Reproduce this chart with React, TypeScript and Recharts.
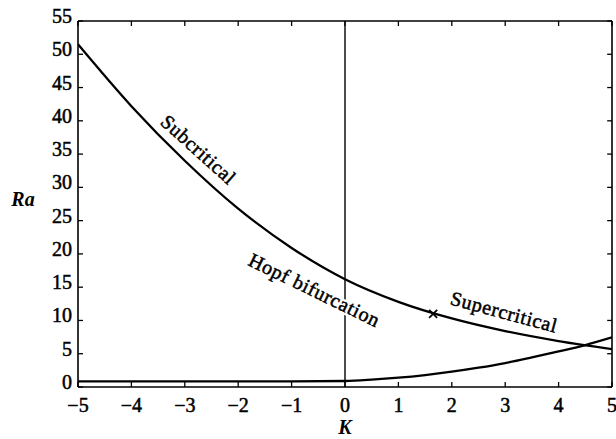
import React from 'react';
import { ComposedChart, Line, XAxis, YAxis, ReferenceLine, ReferenceDot } from 'recharts';

// ---- data ----
const K_TICKS = [-5, -4, -3, -2, -1, 0, 1, 2, 3, 4, 5];
const RA_TICKS = [0, 5, 10, 15, 20, 25, 30, 35, 40, 45, 50, 55];

const UPPER_K = [-5, -4, -3, -2, -1, 0, 1, 2, 3, 4, 5];
const UPPER_RA = [51.5, 42.2, 34.0, 26.8, 20.9, 16.2, 12.8, 10.3, 8.4, 6.9, 5.7];

const LOWER_K = [-5, -4, -3, -2, -1, 0, 0.5, 1, 1.5, 2, 2.5, 3, 3.5, 4, 4.5, 5];
const LOWER_RA = [0.85, 0.85, 0.85, 0.85, 0.85, 0.9, 1.1, 1.4, 1.8, 2.3, 2.9, 3.6, 4.45, 5.35, 6.3, 7.45];

const MARKER_K = 1.65;
const MARKER_RA = 11.0;

const ANNOTATIONS = [
  { text: 'Subcritical', k: -2.74, ra: 35.7, angle: 42 },
  { text: 'Hopf bifurcation', k: -0.57, ra: 14.6, angle: 26 },
  { text: 'Supercritical', k: 2.98, ra: 11.3, angle: 15 },
];

const upperData = UPPER_K.map((k, i) => ({ k, ra: UPPER_RA[i] }));
const lowerData = LOWER_K.map((k, i) => ({ k, ra: LOWER_RA[i] }));

const FONT = '"Liberation Serif", "DejaVu Serif", serif';
const TICK_LEN = 5;
const TOP_TICK_RA = 0.75; // inward tick length on the top frame, in Ra units
const RIGHT_TICK_K = 0.09; // inward tick length on the right frame, in K units

const INK = { fill: '#000', stroke: '#000', strokeWidth: 0.5 };

const fmt = (v: number) => (v < 0 ? `\u2212${-v}` : `${v}`);

const BottomTick = (p: any) => (
  <g>
    <line x1={p.x} x2={p.x} y1={p.y} y2={p.y - TICK_LEN} stroke="#000" strokeWidth={1.3} />
    <text x={p.x} y={p.y + 25} textAnchor="middle" fontSize={20} fontFamily={FONT} {...INK}>
      {fmt(p.payload.value)}
    </text>
  </g>
);
const LeftTick = (p: any) => (
  <g>
    <line x1={p.x} x2={p.x + TICK_LEN} y1={p.y} y2={p.y} stroke="#000" strokeWidth={1.3} />
    <text x={p.x - 6} y={p.y + 2} textAnchor="end" fontSize={20} fontFamily={FONT} {...INK}>
      {fmt(p.payload.value)}
    </text>
  </g>
);

const Cross = (p: any) => {
  const s = 4;
  return (
    <g stroke="#000" strokeWidth={1.8}>
      <line x1={p.cx - s} y1={p.cy - s} x2={p.cx + s} y2={p.cy + s} />
      <line x1={p.cx - s} y1={p.cy + s} x2={p.cx + s} y2={p.cy - s} />
    </g>
  );
};

const makeAnnotation = (text: string, angle: number) => (p: any) => {
  const common = {
    x: p.cx,
    y: p.cy,
    transform: `rotate(${angle} ${p.cx} ${p.cy})`,
    textAnchor: 'middle' as const,
    dominantBaseline: 'central' as const,
    fontSize: 20,
    letterSpacing: 0.6,
    fontFamily: FONT,
  };
  return (
    <g>
      <text {...common} fill="#fff" stroke="#fff" strokeWidth={5}>
        {text}
      </text>
      <text {...common} {...INK}>
        {text}
      </text>
    </g>
  );
};

const FRAME = { stroke: '#000', strokeWidth: 1.6 };
const TICK = { stroke: '#000', strokeWidth: 1.3 };

export default function App() {
  return (
    <div style={{ position: 'absolute', left: 0, top: 0, background: '#fff' }}>
      <ComposedChart width={616} height={439} margin={{ top: 21, right: 4, bottom: 0, left: 0 }}>
        <XAxis
          xAxisId="b"
          dataKey="k"
          type="number"
          domain={[-5, 5]}
          ticks={K_TICKS}
          allowDataOverflow
          height={52}
          tickSize={0}
          tickMargin={0}
          tickLine={false}
          tick={<BottomTick />}
          axisLine={FRAME}
          label={(props: any) => {
            const vb = props.viewBox;
            return (
              <text
                x={vb.x + vb.width / 2}
                y={vb.y + 47}
                textAnchor="middle"
                fontSize={20}
                fontStyle="italic"
                fontWeight="bold"
                fontFamily={FONT}
                fill="#000"
              >
                K
              </text>
            );
          }}
        />
        <YAxis
          yAxisId="l"
          type="number"
          domain={[0, 55]}
          ticks={RA_TICKS}
          allowDataOverflow
          width={78}
          tickSize={0}
          tickMargin={0}
          tickLine={false}
          tick={<LeftTick />}
          axisLine={FRAME}
          label={(props: any) => {
            const vb = props.viewBox;
            return (
              <text
                x={vb.x + 23}
                y={vb.y + vb.height / 2 + 2}
                textAnchor="middle"
                fontSize={20}
                fontStyle="italic"
                fontWeight="bold"
                fontFamily={FONT}
                fill="#000"
              >
                Ra
              </text>
            );
          }}
        />
        {/* frame: top and right borders */}
        <ReferenceLine xAxisId="b" yAxisId="l" y={55} {...FRAME} />
        <ReferenceLine xAxisId="b" yAxisId="l" x={5} {...FRAME} />
        {/* mirrored inward ticks on top and right */}
        {K_TICKS.map((k) => (
          <ReferenceLine
            key={`t${k}`}
            xAxisId="b"
            yAxisId="l"
            segment={[{ x: k, y: 55 }, { x: k, y: 55 - TOP_TICK_RA }]}
            {...TICK}
          />
        ))}
        {RA_TICKS.map((r) => (
          <ReferenceLine
            key={`r${r}`}
            xAxisId="b"
            yAxisId="l"
            segment={[{ x: 5, y: r }, { x: 5 - RIGHT_TICK_K, y: r }]}
            {...TICK}
          />
        ))}
        <ReferenceLine xAxisId="b" yAxisId="l" x={0} stroke="#000" strokeWidth={1.4} />
        <Line
          xAxisId="b"
          yAxisId="l"
          data={upperData}
          dataKey="ra"
          type="monotone"
          stroke="#000"
          strokeWidth={2.3}
          dot={false}
          isAnimationActive={false}
        />
        <Line
          xAxisId="b"
          yAxisId="l"
          data={lowerData}
          dataKey="ra"
          type="monotone"
          stroke="#000"
          strokeWidth={2.3}
          dot={false}
          isAnimationActive={false}
        />
        <ReferenceDot xAxisId="b" yAxisId="l" x={MARKER_K} y={MARKER_RA} r={0} shape={<Cross />} />
        {ANNOTATIONS.map((a) => (
          <ReferenceDot
            key={a.text}
            xAxisId="b"
            yAxisId="l"
            x={a.k}
            y={a.ra}
            r={0}
            shape={makeAnnotation(a.text, a.angle)}
          />
        ))}
      </ComposedChart>
    </div>
  );
}
